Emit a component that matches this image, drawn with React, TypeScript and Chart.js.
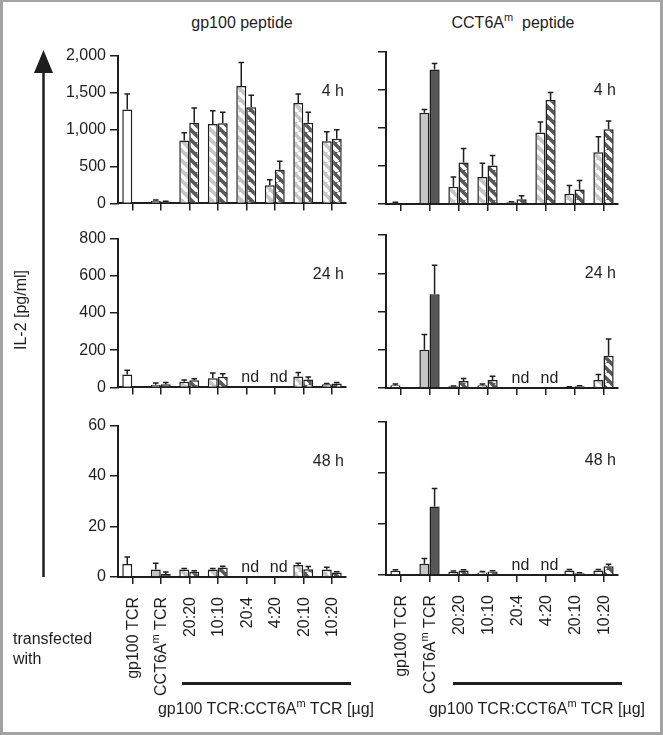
import React, { useEffect, useRef } from 'react';
import { Chart, registerables } from 'chart.js';

Chart.register(...registerables);

// ---------------- data ----------------
const CATEGORIES = ['gp100 TCR', 'CCT6Aᵐ TCR', '20:20', '10:10', '20:4', '4:20', '20:10', '10:20'];

// gp100 peptide
const GP_4H_A = [1270, 35, 850, 1075, 1590, 245, 1360, 840];
const GP_4H_A_ERR = [210, 10, 105, 180, 315, 75, 120, 130];
const GP_4H_B = [null, 25, 1090, 1085, 1300, 455, 1090, 875];
const GP_4H_B_ERR = [null, 5, 200, 150, 165, 115, 145, 120];

const GP_24H_A = [70, 14, 31, 49, null, null, 59, 17];
const GP_24H_A_ERR = [22, 10, 9, 28, null, null, 21, 4];
const GP_24H_B = [null, 17, 38, 57, null, null, 42, 21];
const GP_24H_B_ERR = [null, 9, 9, 16, null, null, 14, 5];

const GP_48H_A = [5.2, 3.0, 3.0, 3.0, null, null, 4.8, 3.0];
const GP_48H_A_ERR = [2.7, 2.4, 0.4, 0.4, null, null, 0.6, 0.9];
const GP_48H_B = [null, 1.2, 2.1, 3.8, null, null, 3.1, 1.8];
const GP_48H_B_ERR = [null, 0.8, 0.4, 0.5, null, null, 1.1, 0.3];

// CCT6Am peptide
const CC_4H_A = [15, 1200, 227, 354, 22, 940, 135, 680];
const CC_4H_A_ERR = [7, 45, 127, 183, 9, 140, 110, 205];
const CC_4H_B = [null, 1770, 546, 507, 61, 1370, 192, 983];
const CC_4H_B_ERR = [null, 78, 183, 131, 48, 97, 118, 109];

const CC_24H_A = [14, 200, 9, 14, null, null, 5, 42];
const CC_24H_A_ERR = [7, 80, 2, 7, null, null, 2, 28];
const CC_24H_B = [null, 490, 37, 42, null, null, 9, 169];
const CC_24H_B_ERR = [null, 152, 13, 19, null, null, 3, 87];

const CC_48H_A = [1.7, 4.4, 1.3, 1.0, null, null, 1.8, 1.8];
const CC_48H_A_ERR = [0.4, 2.1, 0.3, 0.4, null, null, 0.4, 0.4];
const CC_48H_B = [null, 26.9, 1.8, 1.4, null, null, 0.7, 3.4];
const CC_48H_B_ERR = [null, 7.0, 0.3, 0.3, null, null, 0.2, 0.8];

const Y_MAX = [2000, 800, 60];
const Y_STEP = [500, 200, 20];
const TIMES = ['4 h', '24 h', '48 h'];

// ---------------- layout / style ----------------
const FONT = '"Liberation Sans", Arial, "DejaVu Sans", sans-serif';
const INK = '#1e1e1e';
const LIGHT = '#c6c6c6';
const DARK = '#585858';

const COLS = [
  { left: 118, right: 346, yW: 60, labels: true, timeDy: 35.5 },
  { left: 386, right: 618, yW: 20, labels: false, timeDy: 39 },
];
const ROWS = [
  [[54, 205], [237, 389], [424, 577]],
  [[52, 204], [235, 388], [422, 575]],
];
const PAD_TOP = 12;
const PAD_RIGHT = 12;

type Panel = {
  col: number; row: number;
  a: (number | null)[]; aErr: (number | null)[];
  b: (number | null)[]; bErr: (number | null)[];
};

const PANELS: Panel[] = [
  { col: 0, row: 0, a: GP_4H_A, aErr: GP_4H_A_ERR, b: GP_4H_B, bErr: GP_4H_B_ERR },
  { col: 0, row: 1, a: GP_24H_A, aErr: GP_24H_A_ERR, b: GP_24H_B, bErr: GP_24H_B_ERR },
  { col: 0, row: 2, a: GP_48H_A, aErr: GP_48H_A_ERR, b: GP_48H_B, bErr: GP_48H_B_ERR },
  { col: 1, row: 0, a: CC_4H_A, aErr: CC_4H_A_ERR, b: CC_4H_B, bErr: CC_4H_B_ERR },
  { col: 1, row: 1, a: CC_24H_A, aErr: CC_24H_A_ERR, b: CC_24H_B, bErr: CC_24H_B_ERR },
  { col: 1, row: 2, a: CC_48H_A, aErr: CC_48H_A_ERR, b: CC_48H_B, bErr: CC_48H_B_ERR },
];

function stripe(base: string): CanvasPattern | string {
  const s = 10;
  const c = document.createElement('canvas');
  c.width = s;
  c.height = s;
  const g = c.getContext('2d');
  if (!g) return base;
  g.fillStyle = base;
  g.fillRect(0, 0, s, s);
  g.strokeStyle = '#ffffff';
  g.lineWidth = 3.4;
  g.beginPath();
  for (const k of [-s, 0, s]) {
    g.moveTo(k, 0);
    g.lineTo(k + s, s);
  }
  g.stroke();
  return g.createPattern(c, 'repeat') || base;
}

// split a label into normal / superscript runs ("ᵐ" -> raised small "m")
function labelRuns(label: string): { t: string; sup: boolean }[] {
  const runs: { t: string; sup: boolean }[] = [];
  for (const part of label.split(/(ᵐ)/)) {
    if (!part) continue;
    runs.push(part === 'ᵐ' ? { t: 'm', sup: true } : { t: part, sup: false });
  }
  return runs;
}

function PanelChart({ p }: { p: Panel }) {
  const ref = useRef<HTMLCanvasElement>(null);
  const col = COLS[p.col];
  const [aTop, aBot] = ROWS[p.col][p.row];
  const bottomRow = p.row === 2;
  const xH = bottomRow ? 125 : 12;
  const width = col.yW + (col.right - col.left) + PAD_RIGHT;
  const height = PAD_TOP + (aBot - aTop) + xH;
  const left = col.left - col.yW;
  const top = aTop - PAD_TOP;

  useEffect(() => {
    if (!ref.current) return;
    const lightStripe = stripe(LIGHT);
    const darkStripe = stripe(DARK);
    const fillA = CATEGORIES.map((_, i) => (i === 0 ? '#ffffff' : i === 1 ? LIGHT : lightStripe));
    const fillB = CATEGORIES.map((_, i) => (i === 0 ? '#ffffff' : i === 1 ? DARK : darkStripe));
    const errs = [p.aErr, p.bErr];

    const extras = {
      id: 'panelExtras',
      afterDatasetsDraw(chart: any) {
        const ctx = chart.ctx as CanvasRenderingContext2D;
        const ys = chart.scales.y;
        const xs = chart.scales.x;
        const area = chart.chartArea;
        ctx.save();
        ctx.strokeStyle = INK;
        ctx.lineWidth = 1.5;
        chart.data.datasets.forEach((ds: any, d: number) => {
          const meta = chart.getDatasetMeta(d);
          ds.data.forEach((v: number | null, i: number) => {
            const e = errs[d][i];
            if (v == null || e == null) return;
            const el = meta.data[i];
            const x = el.x;
            const y0 = el.y;
            const y1 = ys.getPixelForValue(v + e);
            ctx.beginPath();
            ctx.moveTo(x, y0);
            ctx.lineTo(x, y1);
            ctx.moveTo(x - 2.8, y1);
            ctx.lineTo(x + 2.8, y1);
            ctx.stroke();
          });
        });
        ctx.fillStyle = INK;
        ctx.font = `16px ${FONT}`;
        // "nd" for not-detected ratio groups
        ctx.textAlign = 'center';
        ctx.textBaseline = 'alphabetic';
        CATEGORIES.forEach((_, i) => {
          if (i >= 2 && p.a[i] == null && p.b[i] == null) {
            ctx.fillText('nd', xs.getPixelForValue(i) + 4, area.bottom - 5);
          }
        });
        // time label
        ctx.textAlign = 'right';
        ctx.textBaseline = 'middle';
        ctx.fillText(TIMES[p.row], area.right - 2, area.top + col.timeDy);

        // rotated category labels (bottom row only)
        if (bottomRow) {
          ctx.textAlign = 'left';
          ctx.textBaseline = 'alphabetic';
          CATEGORIES.forEach((lab, i) => {
            const runs = labelRuns(lab);
            const widths = runs.map((r) => {
              ctx.font = `${r.sup ? 11 : 16}px ${FONT}`;
              return ctx.measureText(r.t).width;
            });
            const total = widths.reduce((s, w) => s + w, 0);
            ctx.save();
            ctx.translate(xs.getPixelForValue(i), area.bottom + 20);
            ctx.rotate(-Math.PI / 2);
            let cx = -total;
            runs.forEach((r, k) => {
              ctx.font = `${r.sup ? 11 : 16}px ${FONT}`;
              ctx.fillText(r.t, cx, r.sup ? -2 : 5.5);
              cx += widths[k];
            });
            ctx.restore();
          });
        }
        ctx.restore();
      },
    };

    const chart = new Chart(ref.current, {
      type: 'bar',
      data: {
        labels: CATEGORIES,
        datasets: [
          {
            data: p.a as any,
            backgroundColor: fillA as any,
            borderColor: INK,
            borderWidth: 1.5,
            categoryPercentage: 0.7,
            barPercentage: 1,
          },
          {
            data: p.b as any,
            backgroundColor: fillB as any,
            borderColor: INK,
            borderWidth: 1.5,
            categoryPercentage: 0.7,
            barPercentage: 1,
          },
        ],
      },
      options: {
        responsive: false,
        animation: false,
        events: [],
        layout: { padding: { top: PAD_TOP, right: PAD_RIGHT, left: 0, bottom: 0 } },
        plugins: {
          legend: { display: false },
          tooltip: { enabled: false },
        },
        scales: {
          x: {
            type: 'category',
            offset: true,
            grid: {
              offset: false,
              drawOnChartArea: false,
              drawTicks: true,
              tickLength: 7,
              color: INK,
              lineWidth: 1.5,
            },
            border: { display: true, color: INK, width: 2 },
            ticks: { display: false, autoSkip: false },
            afterFit: (s: any) => {
              s.height = xH;
            },
          },
          y: {
            min: 0,
            max: Y_MAX[p.row],
            grid: {
              drawOnChartArea: false,
              drawTicks: true,
              tickLength: 8,
              color: INK,
              lineWidth: 1.5,
            },
            border: { display: true, color: INK, width: 2 },
            ticks: {
              display: col.labels,
              stepSize: Y_STEP[p.row],
              padding: 4,
              color: INK,
              font: { family: FONT, size: 16 },
              callback: (v: any) => Number(v).toLocaleString('en-US'),
            },
            afterFit: (s: any) => {
              s.width = col.yW;
            },
          },
        },
      } as any,
      plugins: [extras as any],
    });
    return () => chart.destroy();
  }, []);

  return (
    <canvas
      ref={ref}
      width={width}
      height={height}
      style={{ position: 'absolute', left, top, width, height }}
    />
  );
}

const textBase: React.CSSProperties = {
  position: 'absolute',
  fontFamily: FONT,
  fontSize: 16,
  lineHeight: '20px',
  color: INK,
  whiteSpace: 'nowrap',
};
const supStyle: React.CSSProperties = {
  fontSize: 11,
  verticalAlign: 0,
  position: 'relative',
  top: -7,
  lineHeight: 0,
};

export default function App() {
  return (
    <div
      style={{
        position: 'absolute',
        left: 0,
        top: 0,
        width: 663,
        height: 735,
        background: '#ffffff',
        overflow: 'hidden',
      }}
    >
      {PANELS.map((p, i) => (
        <PanelChart key={i} p={p} />
      ))}

      {/* column titles */}
      <div style={{ ...textBase, left: 242, top: 13, transform: 'translateX(-50%)' }}>gp100 peptide</div>
      <div style={{ ...textBase, left: 513, top: 13, transform: 'translateX(-50%)' }}>
        CCT6A<span style={supStyle}>m</span>&nbsp; peptide
      </div>

      {/* axis arrow */}
      <svg style={{ position: 'absolute', left: 0, top: 0 }} width={663} height={735}>
        <line x1={43.5} y1={577} x2={43.5} y2={70} stroke={INK} strokeWidth={2.5} />
        <polygon points="43.5,50 34,73 53,73" fill={INK} />
      </svg>
      <div
        style={{
          ...textBase,
          left: 21,
          top: 310,
          transform: 'translate(-50%, -50%) rotate(-90deg)',
        }}
      >
        IL-2 [pg/ml]
      </div>

      {/* transfected with */}
      <div style={{ ...textBase, left: 13, top: 629 }}>
        transfected
        <br />
        with
      </div>

      {/* group brackets */}
      <div style={{ position: 'absolute', left: 182, top: 682, width: 169, height: 3, background: INK }} />
      <div style={{ position: 'absolute', left: 453, top: 682, width: 169, height: 3, background: INK }} />
      <div style={{ ...textBase, left: 266, top: 699, transform: 'translateX(-50%)' }}>
        gp100 TCR:CCT6A<span style={supStyle}>m</span> TCR [µg]
      </div>
      <div style={{ ...textBase, left: 537, top: 699, transform: 'translateX(-50%)' }}>
        gp100 TCR:CCT6A<span style={supStyle}>m</span> TCR [µg]
      </div>

      {/* frame */}
      <div
        style={{
          position: 'absolute',
          left: 0,
          top: 0,
          width: 663,
          height: 735,
          boxSizing: 'border-box',
          borderStyle: 'solid',
          borderColor: '#a3a3a3',
          borderWidth: '2px 3px 3px 3px',
          pointerEvents: 'none',
        }}
      />
    </div>
  );
}
